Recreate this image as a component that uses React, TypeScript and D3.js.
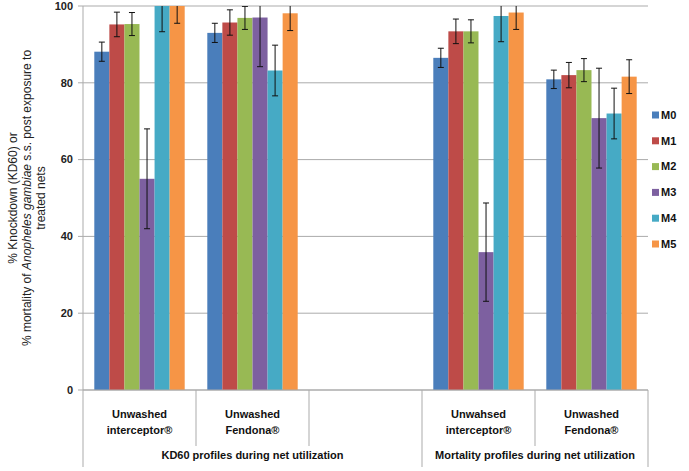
import React from 'react';
import * as d3 from 'd3';

const categories = ['Unwashed|interceptor®', 'Unwashed|Fendona®', '', 'Unwahsed|interceptor®', 'Unwashed|Fendona®'];
const groups = [
  { label: 'KD60 profiles during net utilization', from: 0, to: 2 },
  { label: 'Mortality profiles during net utilization', from: 3, to: 4 },
];
const seriesNames = ['M0', 'M1', 'M2', 'M3', 'M4', 'M5'];
const colors = ['#4A7EBB', '#BE4B48', '#98B954', '#7D60A0', '#46AAC5', '#F69546'];

// values per series, one per category (null = empty slot)
const M0 = [88.1, 93.0, null, 86.5, 80.9];
const M1 = [95.2, 95.7, null, 93.4, 82.0];
const M2 = [95.3, 96.9, null, 93.4, 83.3];
const M3 = [55.0, 97.0, null, 35.9, 70.8];
const M4 = [100, 83.2, null, 97.4, 72.0];
const M5 = [100, 98.1, null, 98.3, 81.6];
const values = [M0, M1, M2, M3, M4, M5];

// error bar half-widths
const E0 = [2.5, 2.5, null, 2.5, 2.4];
const E1 = [3.2, 3.3, null, 3.2, 3.3];
const E2 = [3.0, 3.0, null, 3.0, 3.0];
const E3 = [13.0, 12.8, null, 12.8, 13.0];
const E4 = [6.7, 6.6, null, 6.7, 6.6];
const E5 = [4.5, 4.5, null, 4.4, 4.4];
const errors = [E0, E1, E2, E3, E4, E5];

const yTicks = [0, 20, 40, 60, 80, 100];

const W = 689;
const H = 471;
const left = 83;
const right = 648;
const top = 6;
const bottom = 390;

export default function App() {
  const x = d3.scaleBand<number>().domain(d3.range(categories.length)).range([left, right]).padding(0);
  const xs = d3.scaleBand<string>().domain(seriesNames).range([0, x.bandwidth()]).paddingInner(0).paddingOuter(0.75);
  const y = d3.scaleLinear().domain([0, 100]).range([bottom, top]);
  const font = 'Liberation Sans, Arial, sans-serif';
  const grid = '#ABABAB';

  return (
    <svg width={W} height={H} style={{ position: 'absolute', left: 0, top: 0, background: '#fff' }} fontFamily={font}>
      <defs>
        <clipPath id="plot">
          <rect x={left} y={top} width={right - left} height={bottom - top} />
        </clipPath>
      </defs>

      {/* gridlines + y ticks */}
      {yTicks.map(t => (
        <g key={t}>
          <line x1={left - 5} x2={right} y1={y(t)} y2={y(t)} stroke={grid} strokeWidth={1} />
          <text x={left - 10} y={y(t)} dy="0.35em" textAnchor="end" fontSize={11} fontWeight="bold" fill="#222">{t}</text>
        </g>
      ))}

      {/* bars */}
      <g clipPath="url(#plot)">
        {values.map((vals, si) =>
          vals.map((v, ci) => {
            if (v == null) return null;
            const bx = (x(ci) as number) + (xs(seriesNames[si]) as number);
            return <rect key={`${si}-${ci}`} x={bx} y={y(v)} width={xs.bandwidth()} height={y(0) - y(v)} fill={colors[si]} />;
          })
        )}
        {values.map((vals, si) =>
          vals.map((v, ci) => {
            const e = errors[si][ci];
            if (v == null || e == null) return null;
            const cx = (x(ci) as number) + (xs(seriesNames[si]) as number) + xs.bandwidth() / 2;
            const y1 = y(v + e);
            const y2 = y(v - e);
            return (
              <g key={`e${si}-${ci}`} stroke="#111" strokeWidth={1}>
                <line x1={cx} x2={cx} y1={y1} y2={y2} />
                <line x1={cx - 3} x2={cx + 3} y1={y1} y2={y1} />
                <line x1={cx - 3} x2={cx + 3} y1={y2} y2={y2} />
              </g>
            );
          })
        )}
      </g>

      {/* axes */}
      <line x1={left} x2={left} y1={top} y2={467} stroke={grid} />
      <line x1={left} x2={right} y1={bottom} y2={bottom} stroke={grid} />
      {categories.map((c, i) => {
        const isGroupEdge = groups.some(g => g.from === i);
        const bx = x(i) as number;
        return (
          <g key={i}>
            {i > 0 && <line x1={bx} x2={bx} y1={bottom} y2={isGroupEdge ? 467 : 446} stroke={grid} />}
            {c.split('|').map((line, li) => (
              <text key={li} x={bx + x.bandwidth() / 2} y={418 + li * 16} textAnchor="middle" fontSize={11} fontWeight="bold" fill="#111">{line}</text>
            ))}
          </g>
        );
      })}
      <line x1={right} x2={right} y1={bottom} y2={467} stroke={grid} />
      {groups.map(g => {
        const gx0 = x(g.from) as number;
        const gx1 = (x(g.to) as number) + x.bandwidth();
        return (
          <text key={g.label} x={(gx0 + gx1) / 2} y={459} textAnchor="middle" fontSize={11} fontWeight="bold" fill="#111">{g.label}</text>
        );
      })}

      {/* y title */}
      <g transform={`translate(0, ${(top + bottom) / 2}) rotate(-90)`} fontSize={12} fill="#222">
        <text x={0} y={17} textAnchor="middle">% Knockdown (KD60) or</text>
        <text x={0} y={31} textAnchor="middle">% mortality of <tspan fontStyle="italic">Anopheles gambiae</tspan> s.s. post exposure to</text>
        <text x={0} y={45} textAnchor="middle">treated nets</text>
      </g>

      {/* legend */}
      {seriesNames.map((s, i) => (
        <g key={s} transform={`translate(652, ${115 + i * 25.8})`}>
          <rect x={0} y={-3.5} width={7} height={7} fill={colors[i]} />
          <text x={9} y={0} dy="0.35em" fontSize={11} fontWeight="bold" fill="#111">{s}</text>
        </g>
      ))}
    </svg>
  );
}
